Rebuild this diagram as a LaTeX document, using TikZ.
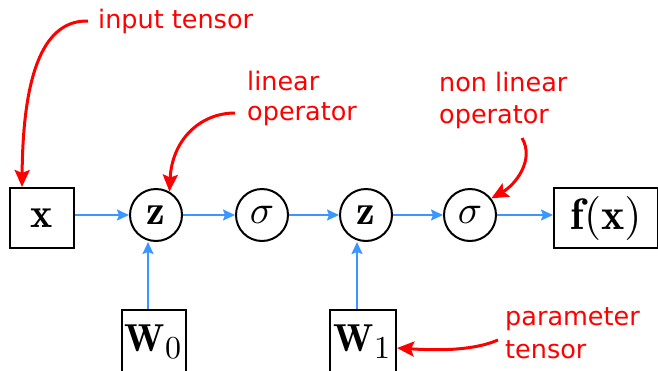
\documentclass[tikz,border=0pt]{standalone}
\usepackage{graphicx}
\usepackage{fontspec}
\newfontfamily\annfont{DejaVu Sans}
\usetikzlibrary{arrows.meta}
\definecolor{ablue}{RGB}{60,150,255}
\definecolor{ared}{RGB}{255,0,0}
\newcommand{\nodemath}[2][4.2]{\scalebox{#1}{$#2$}}
\newcommand{\subdigit}[1]{\scalebox{0.82}{$\textstyle #1$}}
\begin{document}
\begin{tikzpicture}[x=1pt,y=-1pt,
  tensorbox/.style={draw=black,line width=2pt,fill=white,inner sep=0pt},
  opcircle/.style={circle,draw=black,line width=2pt,fill=white,minimum size=52pt,inner sep=0pt},
  flow/.style={draw=ablue,line width=2pt,-{Stealth[length=12pt,width=11pt,inset=2pt]}},
  note/.style={text=ared,inner sep=0pt,align=left,anchor=base west},
  pointer/.style={draw=ared,line width=3pt,-{Stealth[length=17pt,width=15pt,inset=3pt]}}
]
\clip (0,0) rectangle (658,370);
\useasboundingbox (0,0) rectangle (658,370);

% main nodes
\node[tensorbox,minimum width=64pt,minimum height=60pt] (x) at (42,218) {\nodemath{\mathbf{x}}};
\node[opcircle] (z1) at (156,215) {\nodemath{\mathbf{z}}};
\node[opcircle] (s1) at (262,215) {\nodemath[4.0]{\sigma}};
\node[opcircle] (z2) at (366,215) {\nodemath{\mathbf{z}}};
\node[opcircle] (s2) at (470,215) {\nodemath[4.0]{\sigma}};
\node[tensorbox,minimum width=104pt,minimum height=60pt] (fx) at (606,218) {\nodemath[4.4]{\mathbf{f}(\mathbf{x})}};
\node[tensorbox,minimum width=64pt,minimum height=64pt] (W0) at (154,342) {\nodemath[3.9]{\mathbf{W}_{\subdigit{0}}}};
\node[tensorbox,minimum width=66pt,minimum height=64pt] (W1) at (363,342) {\nodemath[3.9]{\mathbf{W}_{\subdigit{1}}}};

% flow connectors
\draw[flow] (x.east |- z1.west) -- (z1.west);
\draw[flow] (z1.east) -- (s1.west);
\draw[flow] (s1.east) -- (z2.west);
\draw[flow] (z2.east) -- (s2.west);
\draw[flow] (s2.east) -- (s2.east -| fx.west);
\draw[flow] ([xshift=-6pt]W0.north) -- ([xshift=-6pt]W0.north |- z1.south);
\draw[flow] ([xshift=-6pt]W1.north) -- ([xshift=-6pt]W1.north |- z2.south);

% annotations (anchor = baseline of last line)
\node[note,font=\annfont\fontsize{25.5}{30}\selectfont] (tin) at (98,28) {input tensor};
\node[note,font=\annfont\fontsize{25.5}{30}\selectfont] (tlin) at (247,120) {linear\\operator};
\node[note,font=\annfont\fontsize{25.5}{31.5}\selectfont] (tnl) at (439,123) {non linear\\operator};
\node[note,font=\annfont\fontsize{25.5}{33}\selectfont] (tpar) at (505,358) {parameter\\tensor};

\coordinate (pin) at (88,21);
\coordinate (plin) at (235,113);
\coordinate (pnl) at (522,138);
\coordinate (ppar) at (498,340);

\draw[pointer] (pin) .. controls (45,20) and (23,70) .. ([xshift=13pt]x.north west);
\draw[pointer] (plin) .. controls (200,113) and (172,140) .. (z1.60);
\draw[pointer] (pnl) .. controls (535,160) and (515,185) .. (s2.38);
\draw[pointer] (ppar) .. controls (470,352) and (430,350) .. ([yshift=-6pt]W1.east);
\end{tikzpicture}
\end{document}
